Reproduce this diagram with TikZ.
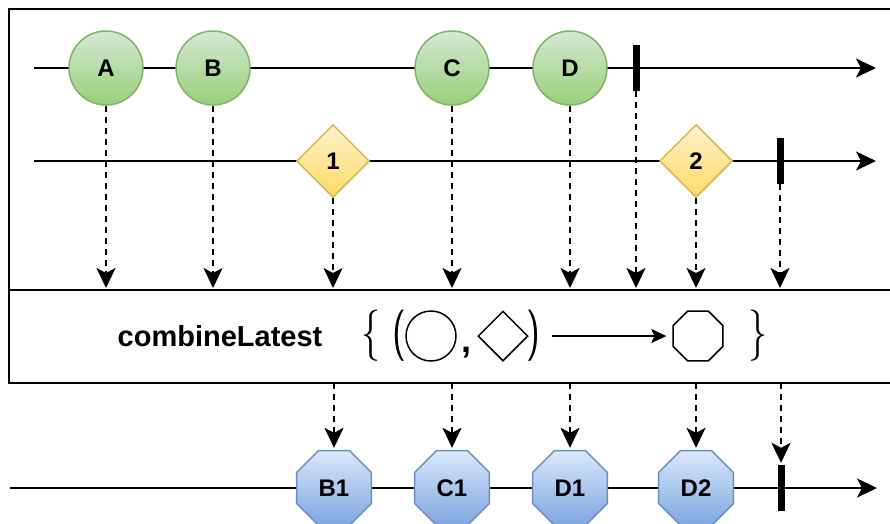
\documentclass[tikz,border=0pt]{standalone}
\usepackage{fontspec}
\setmainfont{Liberation Sans}
\newfontfamily\delimfont{Latin Modern Sans}
\usepackage{tikz}
\usetikzlibrary{shapes.geometric,arrows.meta}

\definecolor{evline}{HTML}{82B366}
\definecolor{evtop}{HTML}{D5E8D4}
\definecolor{evbot}{HTML}{97D077}
\definecolor{valline}{HTML}{D6B656}
\definecolor{valtop}{HTML}{FFF2CC}
\definecolor{valbot}{HTML}{FFD966}
\definecolor{outline}{HTML}{6C8EBF}
\definecolor{outtop}{HTML}{DAE8FC}
\definecolor{outbot}{HTML}{7EA6E0}

\tikzset{
  lbl/.style={font=\fontsize{24}{24}\selectfont\bfseries},
  event/.style={circle, draw=evline, line width=1.5pt, top color=evtop, bottom color=evbot, minimum size=74pt, inner sep=0pt, lbl},
  value/.style={diamond, aspect=1, draw=valline, line width=1.5pt, top color=valtop, bottom color=valbot, minimum size=73pt, inner sep=0pt, lbl},
  result/.style={regular polygon, regular polygon sides=8, draw=outline, line width=1.5pt, top color=outtop, bottom color=outbot, minimum size=81pt, inner sep=0pt, lbl},
  stopbar/.style={rectangle, fill=black, minimum width=7pt, minimum height=46pt, inner sep=0pt},
  axis/.style={line width=2pt, -{Stealth[length=20pt, width=19pt, inset=5pt]}},
  flow/.style={line width=2pt, dash pattern=on 6pt off 5pt, -{Stealth[length=20pt, width=19pt, inset=5pt]}, shorten >=2pt},
  delim/.style={font=\fontsize{38}{38}\selectfont\delimfont, inner sep=0pt, yscale=1.35, transform shape},
  glyph/.style={draw, line width=1.5pt, inner sep=0pt}
}

\begin{document}
\begin{tikzpicture}[x=1pt, y=-1pt]
  \useasboundingbox (0,0) rectangle (890,523);
  \clip (0,0) rectangle (890,523);
  % Frame
  \draw[line width=2.5pt] (9,9) rectangle (900,383);
  \draw[line width=2pt] (9,290) -- (900,290);
  \coordinate (optop) at (0,290);
  \coordinate (opbot) at (0,383);
  % Lines
  \coordinate (s1) at (34,68);  \coordinate (e1) at (876,68);
  \coordinate (s2) at (34,161); \coordinate (e2) at (876,161);
  \coordinate (s3) at (10,488); \coordinate (e3) at (877,488);
  \foreach \i in {1,2,3} {
    \draw[axis] (s\i) -- (e\i);
  }
  % Nodes
  \foreach \n/\x in {A/106, B/213, C/452, D/570} {
    \node[event] (\n) at (\x,68) {\n};
  }
  \node[value] (v1) at (333,161) {1};
  \node[value] (v2) at (696,161) {2};
  \foreach \n/\x in {B1/334, C1/452, D1/570, D2/696} {
    \node[result] (\n) at (\x,488) {\n};
  }
  \node[stopbar] (t1) at (636,68) {};
  \node[stopbar] (t2) at (780,161) {};
  \node[stopbar] (t3) at (781,488) {};
  % Edges
  \foreach \n in {A,B,v1,C,D,t1,v2,t2} {
    \draw[flow] (\n) -- (\n |- optop);
  }
  \foreach \n in {B1,C1,D1,D2,t3} {
    \draw[flow] (\n |- opbot) -- (\n);
  }
  % Operator
  \node[font=\fontsize{29}{29}\selectfont\bfseries] (op) at (220,336) {combineLatest};
  \node[delim] (lbrace) at (371,336) {\{};
  \node[delim] (lparen) at (399,336) {(};
  \node[glyph, circle, minimum size=50pt] (fcirc) at (431,336) {};
  \node[font=\fontsize{36}{36}\selectfont\bfseries, anchor=base, inner sep=0pt] (comma) at (466,352) {,};
  \node[glyph, diamond, aspect=1, minimum size=50pt] (fdiam) at (503,336) {};
  \node[delim] (rparen) at (533,336) {)};
  \node[glyph, regular polygon, regular polygon sides=8, minimum size=54pt] (foct) at (698,336) {};
  \node[delim] (rbrace) at (758,336) {\}};
  \draw[line width=1.5pt, -{Stealth[length=15pt, width=14pt, inset=3pt]}, shorten >=6pt] (552,336) -- (foct.west);
\end{tikzpicture}
\end{document}
